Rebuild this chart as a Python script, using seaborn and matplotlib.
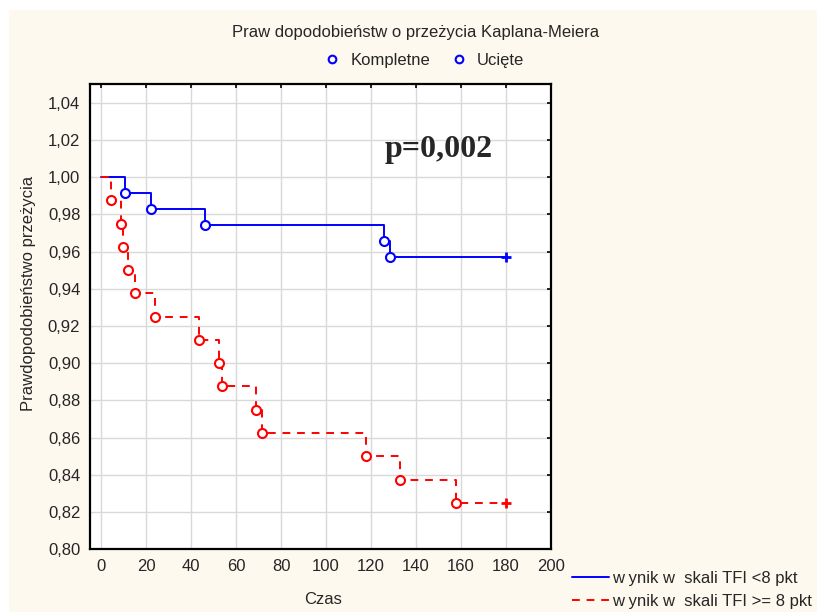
import matplotlib
matplotlib.use("Agg")
import matplotlib.pyplot as plt
import seaborn as sns
import pandas as pd
from matplotlib.lines import Line2D
from matplotlib.patches import Rectangle

# Kaplan-Meier steps, group with TFI score < 8
low_times = [0, 10.4, 22.3, 46.3, 125.7, 128.4, 180]
low_surv = [1.0, 0.9914, 0.9828, 0.9741, 0.9655, 0.9569, 0.9569]
low_censored = [False, False, False, False, False, False, True]

# Kaplan-Meier steps, group with TFI score >= 8
high_times = [0, 4.4, 8.7, 9.5, 11.7, 15.1, 23.7, 43.6, 52.5, 53.7,
              68.6, 71.3, 117.9, 132.7, 157.7, 180]
high_surv = [1.0, 0.9875, 0.975, 0.9625, 0.95, 0.9375, 0.925, 0.9125,
             0.90, 0.8875, 0.875, 0.8625, 0.85, 0.8375, 0.825, 0.825]
high_censored = [False] * 15 + [True]

group_names = ["w ynik w  skali TFI <8 pkt", "w ynik w  skali TFI >= 8 pkt"]
group_colors = ["#0000FF", "#FF0000"]
x_ticks = list(range(0, 201, 20))
y_ticks = [0.80, 0.82, 0.84, 0.86, 0.88, 0.90, 0.92, 0.94, 0.96, 0.98, 1.00, 1.02, 1.04]

title_text = "Praw dopodobieństw o przeżycia Kaplana-Meiera"
marker_labels = ["Kompletne", "Ucięte"]
p_text = "p=0,002"

rows = []
for t, s, c in zip(low_times, low_surv, low_censored):
    rows.append({"Czas": t, "S": s, "grupa": group_names[0], "cenz": c})
for t, s, c in zip(high_times, high_surv, high_censored):
    rows.append({"Czas": t, "S": s, "grupa": group_names[1], "cenz": c})
df = pd.DataFrame(rows)

sns.set_style("white")
plt.rcParams["font.family"] = ["Liberation Sans", "DejaVu Sans"]
FS = 12

fig = plt.figure(figsize=(8.17, 6.12), dpi=100, facecolor="white")
fig.patches.append(Rectangle((9 / 817, 0), 1, 1 - 10 / 612, transform=fig.transFigure,
                             facecolor="#FEF9EE", edgecolor="none", zorder=-10))
ax = fig.add_axes([90 / 817, 1 - 549.3 / 612, (551 - 90) / 817, (549.3 - 84) / 612])
ax.set_facecolor("white")

palette = dict(zip(group_names, group_colors))
sns.lineplot(data=df, x="Czas", y="S", hue="grupa", style="grupa",
             palette=palette, dashes={group_names[0]: "", group_names[1]: (4, 3.5)},
             drawstyle="steps-post", estimator=None, sort=False, lw=1.4,
             legend=False, ax=ax, zorder=3)

events = df[(~df["cenz"]) & (df["Czas"] > 0)]
for g, col in palette.items():
    sub = events[events["grupa"] == g]
    ax.scatter(sub["Czas"], sub["S"], s=42, facecolors="white", edgecolors=col,
               linewidths=1.5, zorder=4)
    cz = df[(df["cenz"]) & (df["grupa"] == g)]
    ax.scatter(cz["Czas"], cz["S"], s=60, marker="+", color=col, linewidths=2, zorder=4)

ax.set_xlim(-5, 200)
ax.set_ylim(0.80, 1.05)
ax.set_xticks(x_ticks)
ax.set_yticks(y_ticks)
ax.set_xticklabels([str(v) for v in x_ticks])
ax.set_yticklabels([f"{v:.2f}".replace(".", ",") for v in y_ticks])
ax.grid(True, color="#D9D9D9", lw=1)
ax.set_axisbelow(True)
ax.tick_params(direction="in", length=3, width=1.2, color="black", labelsize=FS,
               top=True, right=True, pad=7)
for sp in ax.spines.values():
    sp.set_visible(True)
    sp.set_color("black")
    sp.set_linewidth(1.6)

ax.set_xlabel("")
ax.set_ylabel("")
fig.text(323 / 817, 1 - 600 / 612, "Czas", ha="center", va="center", fontsize=FS)
fig.text(29 / 817, 1 - 293 / 612, "Prawdopodobieństwo przeżycia", rotation=90,
         ha="center", va="center", fontsize=FS)
fig.text(416 / 817, 1 - 33 / 612, title_text, ha="center", va="center", fontsize=FS)

ax.text(125.9, 1.0146, p_text, fontsize=23, fontweight="bold",
        family=["Liberation Serif", "DejaVu Serif"], ha="left", va="center")

# Marker legend above the plot
top_handles = [Line2D([], [], ls="none", marker="o", ms=5.5, mfc="none", mec="#0000FF", mew=1.5)
               for _ in marker_labels]
fig.legend(top_handles, marker_labels, loc="center", bbox_to_anchor=(424 / 817, 1 - 60 / 612),
           ncol=2, frameon=False, fontsize=FS, handlelength=1.0, handletextpad=0.6,
           columnspacing=1.2)

# Line legend at the lower right
line_handles = [Line2D([], [], color=group_colors[0], lw=1.4),
                Line2D([], [], color=group_colors[1], lw=1.4, ls=(0, (4, 3.5)))]
fig.legend(line_handles, group_names, loc="center left",
           bbox_to_anchor=(572 / 817, 1 - 590 / 612), frameon=False, fontsize=FS,
           handlelength=2.2, handletextpad=0.2, labelspacing=0.45, borderaxespad=0,
           borderpad=0)

fig.savefig("out.png", dpi=100, facecolor=fig.get_facecolor())
